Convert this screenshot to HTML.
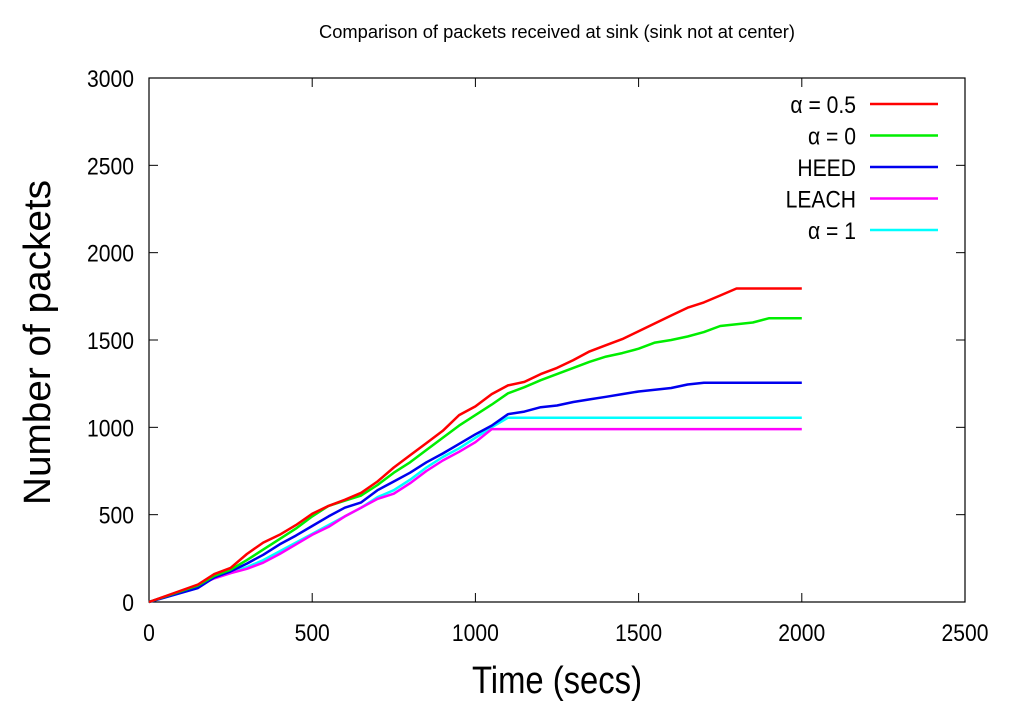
<!DOCTYPE html>
<html><head><meta charset="utf-8"><style>
body{margin:0;background:#fff;}
svg{display:block;font-family:"Liberation Sans",sans-serif;}
</style></head><body>
<svg id="chart" width="1024" height="720">
<rect x="0" y="0" width="1024" height="720" fill="#fff"/>
<text x="319" y="38" font-size="18" textLength="476" lengthAdjust="spacingAndGlyphs">Comparison of packets received at sink (sink not at center)</text>
<g id="axes"></g>
<g id="series"></g>
<g id="legend"></g>
<text x="472" y="693" font-size="38" textLength="170" lengthAdjust="spacingAndGlyphs">Time (secs)</text>
<text transform="translate(50,505) rotate(-90)" font-size="38" textLength="325" lengthAdjust="spacingAndGlyphs">Number of packets</text>
</svg>
<script>
const xTicks=[0,500,1000,1500,2000,2500];
const yTicks=[0,500,1000,1500,2000,2500,3000];
const seriesNames=["α = 0.5","α = 0","HEED","LEACH","α = 1"];
const seriesColors=["#ff0000","#00ee00","#0000ee","#ff00ff","#00ffff"];
const redX=[0,150,200,250,300,350,400,450,500,550,600,650,700,750,800,850,900,950,1000,1050,1100,1150,1200,1250,1300,1350,1400,1450,1500,1550,1600,1650,1700,1750,1800,2000];
const redY=[0,100,160,195,275,340,385,440,505,550,585,625,690,770,840,910,980,1070,1120,1190,1240,1260,1305,1340,1385,1435,1470,1505,1550,1595,1640,1685,1715,1755,1795,1795];
const greenX=[0,150,200,250,300,350,400,450,500,550,600,650,700,750,800,850,900,950,1000,1050,1100,1150,1200,1250,1300,1350,1400,1450,1500,1550,1600,1650,1700,1750,1800,1850,1900,2000];
const greenY=[0,95,150,185,240,300,360,420,490,550,580,610,670,740,800,870,940,1010,1070,1130,1195,1230,1270,1305,1340,1375,1405,1425,1450,1485,1500,1520,1545,1580,1590,1600,1625,1625];
const heedX=[0,150,200,250,300,350,400,450,500,550,600,650,700,750,800,850,900,950,1000,1050,1100,1150,1200,1250,1300,1350,1400,1450,1500,1550,1600,1650,1700,2000];
const heedY=[0,80,140,175,220,270,330,380,435,490,540,570,640,690,740,800,850,905,960,1010,1075,1090,1115,1125,1145,1160,1175,1190,1205,1215,1225,1245,1255,1255];
const leachX=[0,150,200,250,300,350,400,450,500,550,600,650,700,750,800,850,900,950,1000,1050,2000];
const leachY=[0,95,135,165,190,225,275,330,385,430,490,540,590,620,680,750,810,860,915,990,990];
const alpha1X=[0,150,200,250,300,350,400,450,500,550,600,650,700,750,800,850,900,950,1000,1050,1100,2000];
const alpha1Y=[0,95,140,170,200,240,290,340,390,440,490,540,600,640,700,770,830,880,940,1000,1055,1055];
const allX=[redX,greenX,heedX,leachX,alpha1X];
const allY=[redY,greenY,heedY,leachY,alpha1Y];
const L=149,R=965,T=78,B=602;
const sx=v=>L+(v-0)/2500*(R-L);
const sy=v=>B-(v/3000)*(B-T);
const NS="http://www.w3.org/2000/svg";
function mk(tag,attrs,parent){const e=document.createElementNS(NS,tag);for(const k in attrs)e.setAttribute(k,attrs[k]);parent.appendChild(e);return e;}
const axes=document.getElementById('axes');
const frame=mk('rect',{x:L,y:T,width:R-L,height:B-T,fill:'none',stroke:'#000','stroke-width':1.2},axes);


xTicks.forEach(t=>{
  const x=sx(t);
  const l1=mk('line',{x1:x,y1:B,x2:x,y2:B-9,stroke:'#000'},axes);
  
  
  const l2=mk('line',{x1:x,y1:T,x2:x,y2:T+9,stroke:'#000'},axes);
  
  
  const tx=mk('text',{x:x,y:641,'font-size':24,'text-anchor':'middle',transform:'translate('+x+',0) scale(0.88,1) translate('+(-x)+',0)'},axes);
  tx.textContent=t;
  
  
});
yTicks.forEach(t=>{
  const y=sy(t);
  const l1=mk('line',{x1:L,y1:y,x2:L+9,y2:y,stroke:'#000'},axes);
  
  
  const l2=mk('line',{x1:R,y1:y,x2:R-9,y2:y,stroke:'#000'},axes);
  
  
  const tx=mk('text',{x:134,y:y+9,'font-size':24,'text-anchor':'end',transform:'translate(134,0) scale(0.88,1) translate(-134,0)'},axes);
  tx.textContent=t;
  
  
});
const sg=document.getElementById('series');
const lg=document.getElementById('legend');
for(let i=allX.length-1;i>=0;i--){
  const pts=allX[i].map((v,j)=>sx(v).toFixed(1)+','+sy(allY[i][j]).toFixed(1)).join(' ');
  const pl=mk('polyline',{points:pts,fill:'none',stroke:seriesColors[i],'stroke-width':2.5,'stroke-linejoin':'round'},sg);
  
  
}
seriesNames.forEach((n,i)=>{
  const y=104+i*31.5;
  const tx=mk('text',{x:856,y:y+9,'font-size':24,'text-anchor':'end',transform:'translate(856,0) scale(0.88,1) translate(-856,0)'},lg);
  tx.textContent=n;
  
  
  const ln=mk('line',{x1:870,y1:y,x2:938,y2:y,stroke:seriesColors[i],'stroke-width':2.5},lg);
  
  
});
</script>
</body></html>
